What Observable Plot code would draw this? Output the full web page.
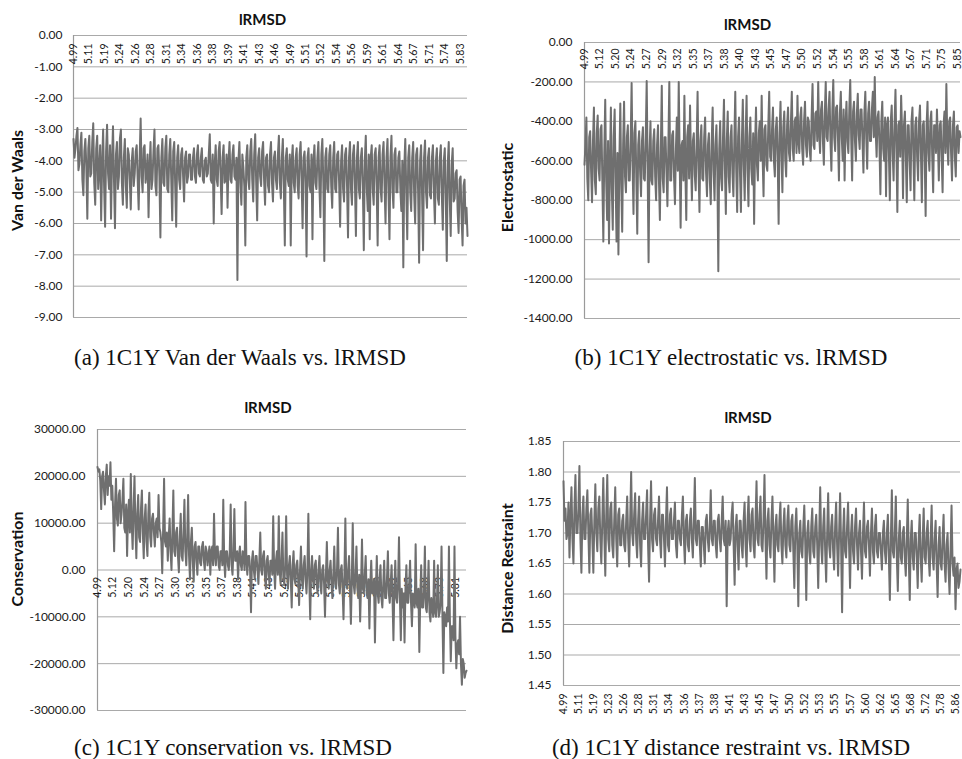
<!DOCTYPE html>
<html><head><meta charset="utf-8">
<script src="https://cdn.jsdelivr.net/npm/d3@7"></script>
<script src="https://cdn.jsdelivr.net/npm/@observablehq/plot@0.6"></script>
<style>
body{margin:0;background:#fff;}
#root{position:relative;width:962px;height:759px;overflow:hidden;background:#fff;}
.panel{position:absolute;}
.cap{position:absolute;width:460px;text-align:center;font-family:"Liberation Serif",serif;font-size:23px;line-height:26px;color:#111;white-space:nowrap;}
</style></head><body><div id="root"></div>
<script>
// (a) Van der Waals vs lRMSD
const vdwValues = [
-3.3,-3.9,-3.6,-3.2,-2.95,-4.3,-4.1,-3.5,-3.1,-4.6,-5.1,-3.7,-3.3,-4.2,-5.85,-3.6,-3.2,-4.5,-4.4,-3.4,
-2.8,-4.7,-5.4,-3.6,-3.2,-4.9,-4.3,-3.5,-5.9,-4.1,-3.0,-4.8,-6.1,-3.7,-2.85,-4.4,-4.9,-3.5,-5.85,-4.0,
-2.9,-4.6,-6.15,-3.8,-3.4,-4.9,-4.5,-3.3,-3.0,-4.7,-5.4,-3.9,-3.3,-4.8,-5.5,-3.6,-3.8,-4.6,-5.55,-4.0,
-3.6,-4.8,-4.4,-3.7,-3.5,-4.6,-5.55,-3.9,-2.65,-4.5,-5.0,-3.6,-3.5,-4.7,-4.4,-3.8,-5.8,-4.2,-3.4,-4.9,
-4.6,-3.7,-3.0,-4.8,-5.1,-3.6,-3.5,-4.5,-6.45,-3.9,-3.3,-4.7,-4.8,-3.6,-3.2,-4.9,-5.0,-3.8,-3.3,-4.6,
-5.9,-3.7,-3.4,-4.8,-6.1,-3.9,-3.5,-4.6,-4.9,-3.8,-3.6,-4.5,-5.3,-3.9,-3.7,-4.7,-4.5,-3.8,-3.8,-4.6,
-4.6,-3.9,-3.6,-4.5,-4.7,-3.8,-3.5,-4.4,-4.5,-3.9,-3.6,-4.6,-4.7,-4.0,-3.9,-4.5,-4.4,-3.8,-3.15,-4.6,
-4.7,-3.8,-6.0,-4.1,-3.5,-4.6,-4.8,-3.7,-3.4,-4.5,-5.7,-3.9,-3.5,-4.7,-4.6,-3.8,-5.5,-4.0,-3.4,-4.6,
-4.7,-3.8,-3.5,-4.5,-4.6,-3.9,-7.8,-4.0,-3.4,-4.7,-5.4,-3.8,-4.2,-4.8,-6.7,-3.9,-3.5,-4.6,-4.9,-3.7,
-3.3,-4.6,-5.3,-3.8,-3.15,-4.7,-5.9,-3.9,-3.6,-4.5,-4.8,-3.7,-3.4,-4.6,-5.4,-3.9,-3.8,-4.8,-5.0,-3.8,
-3.4,-4.7,-5.3,-3.9,-3.7,-4.6,-4.9,-3.8,-3.2,-4.7,-5.2,-3.9,-3.3,-4.8,-6.7,-3.9,-3.6,-4.6,-4.8,-3.8,
-6.7,-4.0,-3.5,-4.7,-5.0,-3.9,-3.6,-4.8,-5.2,-3.8,-3.4,-4.6,-6.15,-3.9,-3.7,-4.7,-7.05,-3.9,-3.6,-4.8,
-5.0,-3.8,-6.5,-4.0,-3.5,-4.7,-4.9,-3.9,-3.4,-4.8,-5.8,-3.8,-3.3,-4.7,-7.2,-3.9,-3.6,-4.9,-5.0,-3.8,
-3.5,-4.8,-5.5,-3.9,-3.4,-4.9,-5.0,-3.8,-3.7,-4.7,-6.1,-4.0,-3.5,-4.9,-5.3,-3.8,-3.6,-4.8,-6.45,-3.9,
-3.4,-4.9,-5.4,-3.8,-3.5,-4.7,-6.4,-3.9,-3.4,-4.9,-5.2,-3.9,-3.6,-4.8,-6.85,-4.0,-3.2,-4.9,-5.6,-3.8,
-6.5,-3.9,-3.5,-4.9,-5.4,-3.8,-3.6,-4.8,-6.7,-3.9,-3.5,-4.9,-5.3,-3.8,-3.4,-4.8,-6.0,-3.9,-3.3,-5.0,
-6.5,-3.9,-3.2,-4.9,-5.5,-3.8,-3.6,-5.0,-5.0,-3.9,-3.7,-4.9,-5.6,-4.0,-7.4,-4.2,-3.3,-5.0,-6.5,-3.9,
-3.5,-5.0,-5.6,-3.9,-3.4,-5.1,-6.0,-3.8,-3.6,-5.0,-7.25,-4.0,-3.5,-5.1,-6.85,-3.9,-3.35,-5.0,-5.5,-3.9,
-3.6,-5.1,-5.2,-3.9,-3.5,-5.0,-6.0,-4.0,-3.6,-5.2,-5.4,-3.9,-3.5,-5.1,-6.2,-4.0,-3.6,-5.2,-7.2,-4.1,
-3.4,-5.2,-6.4,-4.1,-3.6,-5.3,-5.2,-4.4,-4.3,-5.6,-6.3,-4.6,-4.5,-5.8,-6.7,-4.8,-4.6,-6.0,-5.5,-6.4
];
// (b) Electrostatic vs lRMSD
const elecValues = [
-620,-520,-380,-690,-800,-480,-450,-650,-810,-500,-330,-700,-770,-460,-370,-640,-700,-440,-420,-720,
-1010,-560,-290,-700,-900,-500,-1020,-620,-330,-740,-950,-480,-340,-690,-1010,-560,-1075,-600,-310,-720,
-960,-520,-300,-680,-760,-480,-420,-700,-700,-500,-205,-620,-870,-460,-400,-690,-970,-520,-450,-650,
-780,-500,-430,-690,-700,-480,-195,-640,-1115,-560,-400,-700,-720,-500,-440,-680,-800,-520,-420,-700,
-900,-540,-220,-690,-760,-480,-480,-660,-830,-520,-200,-700,-700,-470,-450,-680,-820,-540,-380,-650,
-200,-600,-940,-520,-500,-700,-270,-640,-900,-480,-420,-690,-320,-600,-800,-500,-460,-670,-750,-520,
-250,-640,-860,-500,-420,-690,-700,-480,-380,-660,-780,-520,-460,-700,-820,-500,-330,-650,-800,-520,
-420,-660,-1160,-540,-400,-690,-750,-480,-290,-640,-870,-500,-350,-680,-760,-480,-420,-660,-780,-500,
-250,-640,-860,-480,-380,-660,-860,-500,-290,-620,-800,-470,-270,-650,-830,-480,-380,-640,-720,-460,
-920,-520,-330,-620,-700,-460,-400,-600,-270,-580,-780,-440,-420,-620,-650,-430,-250,-580,-600,-440,
-330,-600,-680,-440,-380,-580,-920,-460,-300,-560,-760,-430,-350,-590,-680,-420,-330,-560,-600,-410,
-250,-540,-600,-400,-380,-560,-270,-500,-560,-380,-330,-540,-620,-400,-300,-520,-580,-380,-400,-550,
-600,-380,-210,-520,-540,-360,-350,-500,-200,-460,-560,-340,-300,-500,-620,-360,-200,-480,-500,-340,
-250,-500,-650,-350,-190,-480,-550,-330,-320,-490,-700,-360,-250,-480,-600,-340,-700,-420,-300,-500,
-560,-340,-190,-480,-700,-350,-300,-500,-600,-360,-260,-470,-540,-340,-340,-500,-660,-360,-250,-480,
-640,-360,-300,-500,-500,-340,-250,-480,-175,-450,-580,-380,-350,-520,-770,-400,-300,-540,-600,-380,
-780,-420,-380,-560,-800,-400,-320,-560,-700,-420,-240,-540,-860,-420,-400,-580,-270,-450,-790,-420,
-350,-580,-810,-420,-420,-600,-750,-400,-330,-560,-800,-420,-380,-580,-700,-400,-320,-560,-810,-420,
-400,-580,-880,-420,-300,-560,-650,-400,-350,-580,-760,-420,-420,-560,-340,-500,-700,-420,-400,-580,
-760,-420,-350,-560,-210,-500,-620,-400,-380,-560,-700,-420,-350,-580,-680,-430,-420,-560,-450,-480
];
// (c) Conservation vs lRMSD
const consValues = [
22000,21000,21500,19000,13000,20000,21000,17000,14000,20000,22500,16000,20000,18000,23000,15000,18000,12000,4000,14000,
19500,11000,9500,16000,17000,10000,12000,15000,19500,9000,8000,14000,3000,12000,15000,8000,20500,10000,4500,13000,
20000,9000,2500,12000,16000,7000,6000,13000,17000,8000,2500,11000,14000,6000,3000,12000,16500,7000,5000,11000,
12000,8000,5000,10000,11000,7000,16000,9000,8000,6000,-700,9000,19500,6000,5000,8000,2000,7000,11000,4000,
0,8000,17000,4000,3000,8000,9000,3000,-500,7000,12000,3000,2000,8000,15000,4000,1000,7000,16000,3000,
-2000,6000,9000,2000,-2500,5000,6000,2000,-1000,5000,5000,1500,1000,5000,6000,2000,0,5000,4000,1000,
3000,5000,-1000,4000,5000,1000,12000,3000,1000,5000,5000,1000,0,4000,4000,1000,15000,2000,-1500,4000,
4000,1000,0,4000,14000,1000,-1000,4000,13000,2000,2000,4000,-2000,3000,5000,1000,0,4000,3000,0,
14500,2000,-1000,3000,3000,0,-9000,2000,4000,0,-2000,3000,3000,0,-3000,2000,8000,0,-1000,3000,
4000,-1000,-4000,2000,3000,-1000,-3000,2000,2000,-1000,11500,0,-4000,2000,4000,-1000,11500,0,-3000,2000,
8000,-2000,-3000,1000,11500,-1000,-4000,1000,3000,-2000,-8000,1000,4000,-2000,-3000,1000,2000,-2000,-7500,0,
5000,-2000,-4000,1000,3000,-2000,-5000,0,12000,-2000,-10500,0,3000,-2000,-4000,1000,2000,-3000,-5000,0,
3000,-3000,-5000,0,1000,-3000,-10000,-1000,6000,-2000,-4000,0,2000,-3000,-6000,-1000,5000,-3000,-4000,0,
9000,-3000,-5000,0,1000,-4000,-10500,-1000,11000,-3000,-4000,0,3000,-4000,-11500,-2000,10000,-3000,-5000,-1000,
5000,-4000,-6000,-1000,-11000,-3000,6500,-4000,-5000,-1000,3000,-5000,-6000,-2000,-12500,-3000,2000,-5000,-5000,-2000,
-15500,-4000,3000,-5000,-7000,-2000,1000,-6000,-8000,-3000,2000,-6000,-6000,-2000,4000,-5000,-7000,-3000,1000,-6000,
-15000,-4000,2000,-6000,-7000,-3000,7000,-6000,-15000,-4000,-8000,-5000,-15500,-4000,1000,-7000,-7000,-3000,2000,-7000,
-12000,-5000,-6000,-8000,5500,-7000,-8000,-4000,-17500,-6000,1000,-8000,-8000,-5000,5000,-8000,-9000,-5000,2000,-9000,
-11000,-6000,-8000,-10000,2000,-9000,-10000,-7000,1000,-10000,-9000,-7000,5000,-10000,-22000,-9000,-10000,-12000,-8000,-11000,
5000,-10000,-19500,-12000,-12000,-15000,5000,-14000,-21000,-16000,-15000,-18000,-10000,-20000,-24500,-19000,-20000,-23000,-22000,-21500
];
// (d) Distance restraint vs lRMSD
const distValues = [
1.785,1.72,1.74,1.69,1.70,1.75,1.66,1.73,1.775,1.69,1.65,1.74,1.795,1.70,1.70,1.74,1.81,1.69,1.635,1.73,
1.76,1.69,1.69,1.74,1.77,1.70,1.635,1.73,1.74,1.69,1.635,1.72,1.78,1.70,1.67,1.74,1.76,1.69,1.65,1.72,
1.79,1.70,1.63,1.73,1.795,1.69,1.67,1.74,1.75,1.68,1.66,1.72,1.775,1.69,1.645,1.73,1.74,1.68,1.68,1.72,
1.73,1.68,1.67,1.72,1.76,1.69,1.645,1.72,1.80,1.70,1.68,1.73,1.765,1.69,1.66,1.72,1.76,1.68,1.645,1.72,
1.75,1.69,1.69,1.73,1.77,1.68,1.62,1.72,1.785,1.69,1.67,1.73,1.74,1.69,1.68,1.72,1.76,1.69,1.66,1.73,
1.73,1.69,1.645,1.72,1.775,1.68,1.67,1.73,1.74,1.69,1.69,1.72,1.75,1.68,1.66,1.72,1.72,1.69,1.68,1.73,
1.76,1.69,1.65,1.72,1.73,1.68,1.67,1.72,1.74,1.69,1.66,1.72,1.79,1.69,1.68,1.72,1.72,1.68,1.645,1.71,
1.71,1.68,1.65,1.72,1.73,1.69,1.67,1.71,1.77,1.69,1.68,1.72,1.72,1.68,1.66,1.72,1.73,1.69,1.67,1.72,
1.76,1.69,1.68,1.72,1.58,1.70,1.72,1.68,1.69,1.73,1.75,1.68,1.615,1.71,1.73,1.68,1.64,1.72,1.72,1.68,
1.66,1.72,1.75,1.68,1.645,1.72,1.76,1.69,1.67,1.73,1.74,1.68,1.66,1.72,1.785,1.69,1.68,1.73,1.76,1.68,
1.67,1.72,1.795,1.69,1.625,1.72,1.74,1.68,1.66,1.72,1.76,1.69,1.62,1.71,1.73,1.68,1.67,1.72,1.75,1.68,
1.65,1.71,1.74,1.68,1.66,1.72,1.745,1.68,1.67,1.72,1.73,1.67,1.61,1.71,1.74,1.68,1.58,1.70,1.72,1.67,
1.66,1.71,1.745,1.68,1.59,1.70,1.72,1.67,1.65,1.71,1.74,1.67,1.66,1.71,1.73,1.68,1.61,1.70,1.775,1.68,
1.65,1.71,1.74,1.67,1.62,1.70,1.765,1.68,1.66,1.71,1.73,1.67,1.64,1.71,1.75,1.68,1.63,1.70,1.765,1.68,
1.57,1.70,1.74,1.67,1.66,1.71,1.75,1.68,1.61,1.70,1.73,1.67,1.65,1.71,1.74,1.68,1.64,1.70,1.72,1.67,
1.625,1.70,1.75,1.67,1.66,1.71,1.72,1.68,1.63,1.70,1.74,1.67,1.65,1.71,1.73,1.67,1.66,1.70,1.70,1.67,
1.64,1.70,1.72,1.67,1.65,1.70,1.73,1.66,1.59,1.69,1.77,1.67,1.66,1.70,1.76,1.66,1.605,1.69,1.72,1.66,
1.65,1.70,1.71,1.66,1.63,1.69,1.755,1.66,1.59,1.69,1.72,1.66,1.64,1.70,1.70,1.66,1.61,1.69,1.73,1.66,
1.62,1.69,1.74,1.66,1.65,1.70,1.72,1.66,1.63,1.69,1.745,1.66,1.64,1.69,1.72,1.65,1.595,1.68,1.71,1.65,
1.64,1.69,1.73,1.65,1.62,1.68,1.70,1.64,1.60,1.67,1.745,1.65,1.63,1.66,1.575,1.64,1.65,1.61,1.62,1.64
];

const vdwLabels = ["4.99","5.11","5.19","5.24","5.26","5.28","5.31","5.34","5.36","5.38","5.39","5.41","5.43","5.46","5.49","5.51","5.52","5.54","5.56","5.59","5.61","5.64","5.67","5.71","5.74","5.83"];
const elecLabels = ["4.99","5.12","5.20","5.24","5.27","5.29","5.32","5.35","5.37","5.38","5.40","5.43","5.45","5.47","5.50","5.52","5.54","5.55","5.58","5.61","5.64","5.67","5.71","5.75","5.85"];
const consLabels = ["4.99","5.12","5.20","5.24","5.27","5.30","5.33","5.35","5.37","5.38","5.41","5.43","5.45","5.49","5.51","5.53","5.55","5.56","5.60","5.62","5.65","5.68","5.73","5.81"];
const distLabels = ["4.99","5.11","5.19","5.23","5.26","5.28","5.31","5.34","5.36","5.37","5.38","5.41","5.43","5.45","5.47","5.50","5.52","5.53","5.55","5.57","5.60","5.62","5.65","5.68","5.72","5.78","5.86"];

const vdwTicks = [0,-1,-2,-3,-4,-5,-6,-7,-8,-9];
const elecTicks = [0,-200,-400,-600,-800,-1000,-1200,-1400];
const consTicks = [30000,20000,10000,0,-10000,-20000,-30000];
const distTicks = [1.85,1.80,1.75,1.70,1.65,1.60,1.55,1.50,1.45];

const chartTitle = "lRMSD";
const yLabels = ["Van der Waals","Electrostatic","Conservation","Distance Restraint"];
const captions = [
  "(a) 1C1Y Van der Waals vs. lRMSD",
  "(b) 1C1Y electrostatic vs. lRMSD",
  "(c) 1C1Y conservation vs. lRMSD",
  "(d) 1C1Y distance restraint vs. lRMSD"
];

const root = document.getElementById("root");

function makePanel(c) {
  const n = c.values.length;
  const step = c.frac * (n - 1) / (c.labels.length - 1);
  const chart = Plot.plot({
    width: c.width, height: c.height,
    marginLeft: c.mL, marginRight: c.mR, marginTop: c.mT, marginBottom: c.mB,
    style: {fontFamily: "Lato, 'Open Sans', sans-serif", fontSize: "12px", color: "#1a1a1a", background: "transparent", overflow: "visible"},
    x: {domain: [0, n - 1], axis: null},
    y: {domain: c.yDomain},
    marks: [
      Plot.gridY(c.ticks, {stroke: "#a9a9a9", strokeOpacity: 1, strokeWidth: 1}),
      Plot.ruleX([0], {stroke: "#9a9a9a", strokeWidth: 1.2}),
      Plot.text(c.labels, {x: (d, i) => i * step, y: () => c.labelY, rotate: -90, textAnchor: "end", dy: c.labelDy, fontSize: 10.5, fill: "#1a1a1a"}),
      Plot.lineY(c.values, {stroke: "#6f6f6f", strokeWidth: 2}),
      Plot.axisY(c.ticks, {tickFormat: d => d.toFixed(2), tickSize: 0, tickPadding: c.pad, label: null, fontSize: 12}),
      Plot.text([chartTitle], {frameAnchor: "top", lineAnchor: "middle", dx: c.tdx, dy: c.tdy, fontSize: 15, fontWeight: "bold", fill: "#111"}),
      Plot.text([c.yLabel], {frameAnchor: "left", rotate: -90, textAnchor: "middle", lineAnchor: "middle", dx: c.ldx, dy: c.ldy, fontSize: 16, fontWeight: "bold", fill: "#111"})
    ]
  });
  const wrap = document.createElement("div");
  wrap.className = "panel";
  wrap.style.left = c.left + "px";
  wrap.style.top = c.top + "px";
  wrap.appendChild(chart);
  root.appendChild(wrap);
  const cap = document.createElement("div");
  cap.className = "cap";
  cap.textContent = c.caption;
  cap.style.left = (c.capX - 230) + "px";
  cap.style.top = (c.capY - 13) + "px";
  root.appendChild(cap);
}

makePanel({values: vdwValues, labels: vdwLabels, ticks: vdwTicks, yDomain: [-9, 0], yLabel: yLabels[0], caption: captions[0],
  left: 0, top: 0, width: 480, height: 330, mL: 73, mR: 13, mT: 35, mB: 13,
  labelY: 0, labelDy: 8, frac: 0.982, pad: 11, tdx: -8, tdy: -15, ldx: -56, ldy: 4, capX: 240, capY: 358});
makePanel({values: elecValues, labels: elecLabels, ticks: elecTicks, yDomain: [-1400, 0], yLabel: yLabels[1], caption: captions[1],
  left: 480, top: 0, width: 482, height: 330, mL: 104, mR: 2, mT: 42, mB: 12,
  labelY: 0, labelDy: 6, frac: 0.992, pad: 12, tdx: -25, tdy: -17, ldx: -77, ldy: 7, capX: 731, capY: 358});
makePanel({values: consValues, labels: consLabels, ticks: consTicks, yDomain: [-30000, 30000], yLabel: yLabels[2], caption: captions[2],
  left: 0, top: 380, width: 480, height: 379, mL: 97, mR: 14, mT: 49, mB: 49,
  labelY: 0, labelDy: 7, frac: 0.970, pad: 12, tdx: -14, tdy: -21, ldx: -80, ldy: -11, capX: 233, capY: 748});
makePanel({values: distValues, labels: distLabels, ticks: distTicks, yDomain: [1.45, 1.85], yLabel: yLabels[3], caption: captions[3],
  left: 480, top: 380, width: 482, height: 379, mL: 83, mR: 2, mT: 61, mB: 74,
  labelY: 1.45, labelDy: 8, frac: 0.988, pad: 12, tdx: -14, tdy: -23, ldx: -56, ldy: 5, capX: 731, capY: 748});
</script>
</body></html>
